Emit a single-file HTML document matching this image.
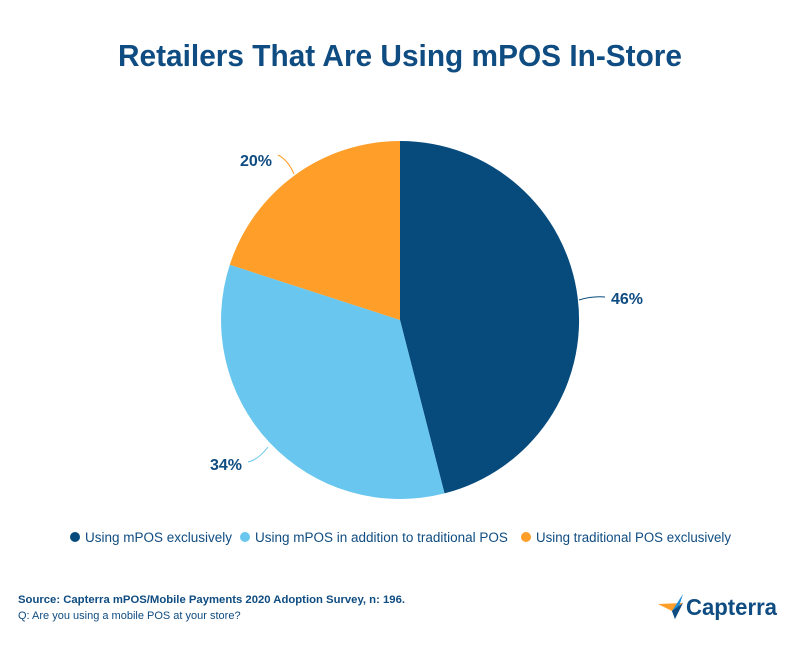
<!DOCTYPE html>
<html><head><style>
body{margin:0;background:#fff;width:800px;height:641px;overflow:hidden;font-family:"Liberation Sans",sans-serif}
</style></head><body>
<svg width="800" height="641" xmlns="http://www.w3.org/2000/svg" font-family="Liberation Sans, sans-serif">
<text x="118" y="66" textLength="564" lengthAdjust="spacingAndGlyphs" font-size="31" font-weight="bold" fill="#0f4c81">Retailers That Are Using mPOS In-Store</text>
<path d="M400,320 L400,141 A179,179 0 0 1 444.5,493.4 Z" fill="#074b7d"/>
<path d="M400,320 L444.5,493.4 A179,179 0 0 1 229.8,264.7 Z" fill="#69c6ee"/>
<path d="M400,320 L229.8,264.7 A179,179 0 0 1 400,141 Z" fill="#ff9e28"/>
<path d="M579,300 Q592,296 605,297" stroke="#074b7d" fill="none" stroke-width="1"/>
<path d="M268,447 Q258,460 248,462" stroke="#69c6ee" fill="none" stroke-width="1"/>
<path d="M294,174 Q288,160 278,155" stroke="#ff9e28" fill="none" stroke-width="1"/>
<text x="611" y="304" font-size="16" font-weight="bold" fill="#0f4c81">46%</text>
<text x="210" y="470" font-size="16" font-weight="bold" fill="#0f4c81">34%</text>
<text x="240" y="166" font-size="16" font-weight="bold" fill="#0f4c81">20%</text>
<circle cx="75" cy="537" r="5" fill="#074b7d"/>
<text x="85" y="542" font-size="13.5" fill="#0f4c81">Using mPOS exclusively</text>
<circle cx="245" cy="537" r="5" fill="#69c6ee"/>
<text x="255" y="542" font-size="13.5" fill="#0f4c81">Using mPOS in addition to traditional POS</text>
<circle cx="526" cy="537" r="5" fill="#ff9e28"/>
<text x="536" y="542" font-size="13.5" textLength="195" lengthAdjust="spacingAndGlyphs" fill="#0f4c81">Using traditional POS exclusively</text>
<text x="18" y="603" font-size="11" font-weight="bold" textLength="387" lengthAdjust="spacingAndGlyphs" fill="#0f4c81">Source: Capterra mPOS/Mobile Payments 2020 Adoption Survey, n: 196.</text>
<text x="18" y="619" font-size="11" fill="#0f4c81">Q: Are you using a mobile POS at your store?</text>
<polygon points="658,604 683,603 672,611" fill="#ff9e28"/>
<polygon points="672,611 683,594 675,619" fill="#1d8fd6"/>
<polygon points="672,611 683,603 675,619" fill="#0f4c81"/>
<text x="686" y="615" font-size="23" font-weight="bold" textLength="91" lengthAdjust="spacingAndGlyphs" fill="#0f4c81">Capterra</text>
</svg>
</body></html>
